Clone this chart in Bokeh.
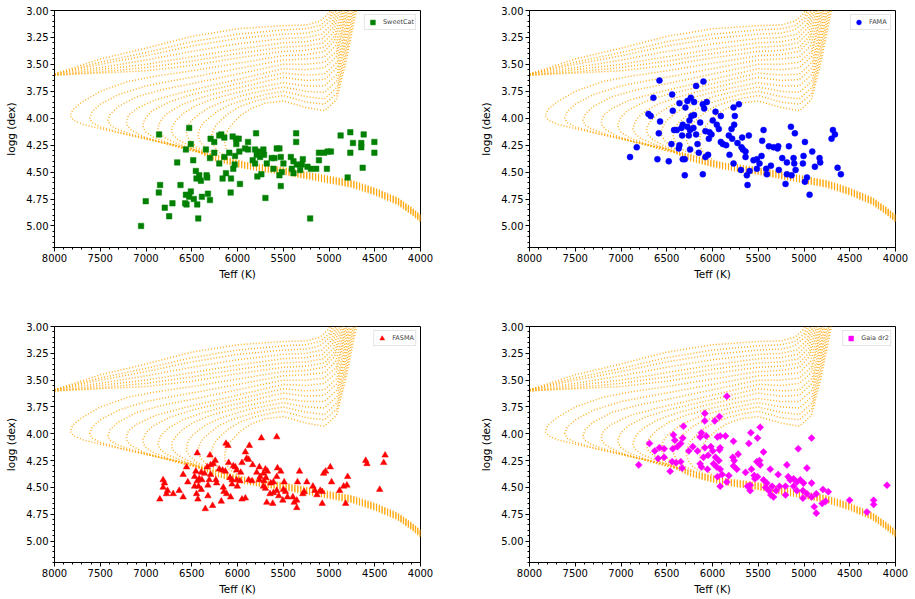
import math
from bokeh.plotting import figure
from bokeh.layouts import gridplot
from bokeh.models import Range1d, SingleIntervalTicker, NumeralTickFormatter, ColumnDataSource
from bokeh.embed import file_html
from bokeh.resources import INLINE

# ---- catalogue values (Teff in K, logg in dex) ----
sweetcat_teff = [6528, 6857, 6510, 6564, 6659, 6484, 6294, 6254, 6199, 6177, 6144, 6053, 6016, 5987, 6013,
                 5885, 5797, 6345, 6254, 6301, 6199, 6144, 6090, 6027, 5980, 5918, 5885, 5808, 5761, 5717,
                 5790, 5834, 5808, 5753, 5710, 5680, 5626, 5571, 5542, 5607, 5596, 5527, 5498, 5516, 5542,
                 5417, 5388, 5406, 5352, 5286, 5297, 5315, 5359, 5359, 5388, 5235, 5198, 5140, 5110, 5110,
                 5052, 5015, 4979, 5023, 4873, 4767, 4767, 4738, 4647, 4647, 4621, 4632, 4504, 4504, 4796,
                 6031, 6046, 6071, 6126, 6163, 5973, 5783, 5739, 5695, 5527, 5206, 6075, 6455, 6418, 6400,
                 6338, 6331, 6448, 6846, 6860, 6623, 6510, 6564, 6528, 6477, 6440, 6389, 6323, 6301, 6572,
                 6557, 7003, 6711, 6795, 6747, 6429, 7054]
sweetcat_logg = [4.09, 4.15, 4.24, 4.29, 4.41, 4.39, 4.19, 4.22, 4.16, 4.15, 4.18, 4.17, 4.19, 4.19, 4.24,
                 4.22, 4.14, 4.29, 4.32, 4.37, 4.42, 4.36, 4.32, 4.35, 4.31, 4.28, 4.29, 4.29, 4.31, 4.29,
                 4.34, 4.39, 4.42, 4.36, 4.34, 4.42, 4.37, 4.28, 4.28, 4.47, 4.37, 4.36, 4.42, 4.50, 4.53,
                 4.36, 4.40, 4.47, 4.43, 4.38, 4.43, 4.48, 4.14, 4.22, 4.51, 4.45, 4.47, 4.47, 4.32, 4.39,
                 4.32, 4.31, 4.31, 4.47, 4.16, 4.13, 4.32, 4.23, 4.23, 4.27, 4.15, 4.46, 4.22, 4.32, 4.55,
                 4.43, 4.47, 4.56, 4.51, 4.56, 4.61, 4.54, 4.52, 4.74, 4.63, 4.93, 4.69, 4.49, 4.53, 4.58,
                 4.53, 4.55, 4.56, 4.62, 4.69, 4.62, 4.68, 4.71, 4.73, 4.75, 4.80, 4.73, 4.70, 4.76, 4.79,
                 4.80, 4.77, 4.79, 4.83, 4.91, 4.93, 5.00]

fama_teff = [6580, 6099, 6179, 6646, 6441, 6237, 6274, 6361, 6201, 6106, 6062, 6296, 6091, 6434, 5770,
             5712, 6700, 6675, 6573, 6201, 6230, 6252, 5967, 5909, 6135, 5997, 5953, 5931, 5756, 5763,
             6325, 6274, 6339, 6390, 6420, 6208, 6245, 6077, 6033, 6011, 6040, 6179, 6259, 6332, 6587,
             6449, 6361, 6369, 6164, 6245, 6150, 6048, 6077, 5909, 5887, 5851, 5822, 5785, 5727, 5676,
             5603, 5792, 5683, 5668, 5639, 5639, 5814, 5770, 5690, 5625, 5595, 5617, 5552, 5515, 5464,
             5486, 5442, 5457, 5384, 5333, 5282, 5289, 5165, 5143, 5100, 4990, 5005, 5012, 4910, 4830,
             4823, 5238, 5187, 5114, 5107, 5092, 4881, 5362, 5413, 5275, 5187, 5136, 5202, 4990, 4968,
             4939, 5406, 5515, 4684, 4662, 4699, 4633, 4597, 6828, 6901, 6602, 6478, 6325, 6303, 6303,
             6106]
fama_logg = [3.65, 3.66, 3.70, 3.81, 3.78, 3.81, 3.84, 3.86, 3.85, 3.87, 3.85, 3.90, 3.91, 3.93, 3.90,
             3.87, 3.96, 3.98, 4.03, 3.97, 3.98, 4.02, 3.94, 3.98, 4.04, 4.02, 4.06, 4.10, 3.98, 4.06,
             4.06, 4.08, 4.09, 4.11, 4.11, 4.09, 4.11, 4.12, 4.13, 4.15, 4.19, 4.15, 4.16, 4.16, 4.14,
             4.24, 4.25, 4.28, 4.24, 4.29, 4.32, 4.34, 4.36, 4.22, 4.24, 4.25, 4.16, 4.19, 4.23, 4.18,
             4.16, 4.10, 4.27, 4.29, 4.31, 4.36, 4.34, 4.42, 4.48, 4.53, 4.49, 4.62, 4.39, 4.38, 4.35,
             4.42, 4.11, 4.21, 4.26, 4.27, 4.26, 4.28, 4.26, 4.08, 4.14, 4.22, 4.35, 4.42, 4.31, 4.37,
             4.41, 4.37, 4.41, 4.37, 4.42, 4.48, 4.45, 4.44, 4.47, 4.48, 4.52, 4.53, 4.61, 4.59, 4.55,
             4.71, 4.52, 4.47, 4.11, 4.15, 4.19, 4.46, 4.52, 4.27, 4.36, 4.38, 4.40, 4.38, 4.38, 4.53,
             4.52]

fasma_teff = [5739, 5571, 6126, 6104, 5870, 6440, 6301, 5914, 5900, 5878, 6243, 6097, 5951, 6294, 6331,
              6265, 6199, 6163, 6133, 6046, 6024, 6009, 5965, 5834, 5761, 5695, 5673, 5717, 5563, 5527,
              5790, 5753, 5688, 5571, 6557, 6455, 6396, 6360, 6294, 6594, 6813, 6798, 6543, 6469, 6418,
              6440, 6389, 6309, 6236, 6228, 6082, 6060, 6009, 5973, 5878, 5841, 5761, 5710, 5637, 5490,
              5322, 5344, 5242, 6813, 6765, 6637, 6703, 6594, 6469, 6426, 6396, 6323, 6448, 6323, 6433,
              6849, 6776, 6155, 6148, 6119, 6075, 6060, 6002, 5695, 5644, 5607, 5571, 5498, 5476, 5454,
              5549, 5505, 5395, 5352, 5352, 5381, 5271, 5286, 5176, 5154, 5096, 5132, 5074, 5059, 5037,
              4986, 4972, 4884, 4840, 4796, 4804, 5074, 4818, 5680, 5615, 5914, 5951, 6177, 6272, 6352,
              4599, 4585, 4387, 4402, 4446, 5717, 5607]
fasma_logg = [4.04, 4.03, 4.09, 4.11, 4.11, 4.18, 4.20, 4.17, 4.23, 4.24, 4.25, 4.27, 4.27, 4.29, 4.31,
              4.28, 4.33, 4.34, 4.35, 4.30, 4.31, 4.34, 4.36, 4.29, 4.31, 4.33, 4.35, 4.37, 4.32, 4.35,
              4.36, 4.40, 4.41, 4.40, 4.31, 4.35, 4.36, 4.37, 4.38, 4.38, 4.43, 4.46, 4.45, 4.40, 4.42,
              4.44, 4.43, 4.43, 4.43, 4.46, 4.41, 4.43, 4.43, 4.44, 4.43, 4.44, 4.43, 4.44, 4.46, 4.45,
              4.35, 4.45, 4.45, 4.50, 4.53, 4.53, 4.56, 4.59, 4.49, 4.49, 4.52, 4.48, 4.56, 4.58, 4.61,
              4.61, 4.56, 4.50, 4.54, 4.56, 4.59, 4.47, 4.49, 4.51, 4.56, 4.55, 4.53, 4.52, 4.54, 4.59,
              4.58, 4.62, 4.59, 4.62, 4.69, 4.64, 4.54, 4.56, 4.49, 4.53, 4.53, 4.57, 4.54, 4.37, 4.35,
              4.31, 4.45, 4.53, 4.49, 4.40, 4.48, 4.65, 4.65, 4.64, 4.65, 4.60, 4.61, 4.63, 4.67, 4.70,
              4.25, 4.28, 4.20, 4.27, 4.52, 4.49, 4.45]

gaia_teff = [5843, 6084, 6084, 5924, 5975, 6317, 5479, 5581, 5508, 6427, 6412, 6325, 6347, 6121, 6135,
             6069, 5946, 5916, 5858, 5771, 5603, 6689, 6631, 6580, 6529, 6595, 6529, 6434, 6383, 6259,
             6215, 6164, 6084, 6018, 5997, 5916, 5924, 6048, 6099, 5967, 5931, 5778, 5763, 5720, 6441,
             6398, 6347, 6332, 6463, 6135, 6121, 6055, 5989, 5953, 5916, 5894, 5945, 5822, 5771, 5734,
             5639, 5574, 5544, 5515, 5486, 5479, 5537, 5508, 5442, 5369, 5282, 5187, 5063, 4968, 4917,
             5173, 5151, 5114, 5078, 5041, 5005, 4917, 5114, 5078, 5012, 4968, 4917, 4866, 4801, 4764,
             4793, 4735, 5202, 5202, 5267, 5348, 5442, 5420, 5384, 5362, 5333, 5617, 5588, 5588, 5916,
             5843, 4888, 4866, 4502, 4239, 4239, 4312, 4093, 6806, 5012, 5304, 5406]
gaia_logg = [3.65, 3.81, 3.88, 3.84, 3.88, 3.93, 3.94, 3.99, 4.04, 4.01, 4.06, 4.04, 4.09, 3.99, 4.03,
             4.02, 4.03, 4.02, 4.02, 4.07, 4.09, 4.09, 4.16, 4.13, 4.14, 4.23, 4.22, 4.14, 4.12, 4.16,
             4.12, 4.16, 4.13, 4.12, 4.16, 4.13, 4.15, 4.20, 4.22, 4.22, 4.25, 4.22, 4.25, 4.19, 4.26,
             4.27, 4.26, 4.32, 4.35, 4.28, 4.31, 4.33, 4.28, 4.31, 4.33, 4.38, 4.40, 4.39, 4.30, 4.33,
             4.36, 4.33, 4.39, 4.26, 4.25, 4.29, 4.42, 4.40, 4.17, 4.33, 4.38, 4.29, 4.14, 4.32, 4.04,
             4.40, 4.43, 4.42, 4.45, 4.43, 4.46, 4.46, 4.49, 4.53, 4.53, 4.56, 4.59, 4.56, 4.65, 4.63,
             4.52, 4.54, 4.49, 4.57, 4.49, 4.49, 4.43, 4.50, 4.53, 4.57, 4.59, 4.49, 4.48, 4.53, 4.49,
             4.45, 4.68, 4.74, 4.62, 4.62, 4.66, 4.73, 4.48, 4.29, 4.60, 4.53, 4.46]

# ---- isochrone grid (Teff, logg knots), same in every panel ----
# shared lower main sequence band
band_teff = [4000, 4100, 4250, 4500, 4750, 5000, 5250, 5500, 5750, 6000, 6250, 6500]
band_logg = [4.93, 4.86, 4.77, 4.68, 4.61, 4.57, 4.53, 4.49, 4.46, 4.42, 4.36, 4.29]

# young isochrones: turn-off beyond 8000 K, only the post main sequence is in view
young_isochrones = [
    [(8000, 3.59), (7500, 3.45), (7000, 3.35), (6500, 3.24), (6000, 3.17), (5500, 3.14), (5250, 3.135), (5100, 3.10), (5020, 3.04), (4985, 3.00)],
    [(8000, 3.59), (7500, 3.48), (7000, 3.39), (6500, 3.29), (6000, 3.22), (5500, 3.18), (5250, 3.17), (5100, 3.14), (5000, 3.07), (4965, 3.00)],
    [(8000, 3.59), (7500, 3.50), (7000, 3.42), (6500, 3.33), (6000, 3.26), (5500, 3.22), (5250, 3.21), (5100, 3.18), (4990, 3.10), (4945, 3.00)],
    [(8000, 3.59), (7500, 3.53), (7000, 3.46), (6500, 3.38), (6000, 3.31), (5500, 3.26), (5250, 3.25), (5080, 3.22), (4970, 3.13), (4925, 3.00)],
    [(8000, 3.60), (7500, 3.55), (7000, 3.50), (6500, 3.43), (6000, 3.36), (5500, 3.30), (5250, 3.29), (5070, 3.26), (4960, 3.16), (4905, 3.00)],
    [(8000, 3.60), (7500, 3.57), (7000, 3.53), (6500, 3.47), (6000, 3.40), (5500, 3.34), (5250, 3.33), (5060, 3.30), (4950, 3.20), (4885, 3.00)],
    [(8000, 3.60), (7500, 3.58), (7000, 3.56), (6500, 3.51), (6000, 3.44), (5500, 3.38), (5250, 3.37), (5050, 3.34), (4940, 3.24), (4900, 3.12), (4865, 3.00)],
]

# older isochrones: hook of the turn-off visible, starting where they leave the band
old_isochrones = [
    [(6500, 4.28), (6800, 4.23), (7070, 4.18), (7430, 4.11), (7680, 4.06), (7790, 4.02), (7828, 3.98), (7800, 3.92), (7700, 3.85), (7500, 3.75), (7200, 3.66), (6900, 3.61), (6500, 3.56), (6000, 3.49), (5500, 3.42), (5250, 3.41), (5050, 3.38), (4940, 3.28), (4880, 3.12), (4850, 3.00)],
    [(6450, 4.30), (6700, 4.25), (7000, 4.19), (7300, 4.13), (7500, 4.08), (7590, 4.04), (7616, 4.00), (7590, 3.94), (7500, 3.87), (7300, 3.78), (7000, 3.70), (6700, 3.65), (6500, 3.62), (6000, 3.54), (5500, 3.46), (5250, 3.45), (5050, 3.43), (4930, 3.33), (4870, 3.15), (4835, 3.00)],
    [(6400, 4.31), (6650, 4.26), (6900, 4.21), (7150, 4.15), (7320, 4.10), (7395, 4.06), (7416, 4.02), (7390, 3.96), (7300, 3.89), (7100, 3.80), (6800, 3.73), (6500, 3.68), (6000, 3.59), (5500, 3.50), (5250, 3.50), (5050, 3.48), (4920, 3.38), (4860, 3.18), (4820, 3.00)],
    [(6350, 4.33), (6600, 4.28), (6850, 4.22), (7030, 4.17), (7160, 4.11), (7205, 4.07), (7215, 4.03), (7190, 3.97), (7100, 3.91), (6900, 3.83), (6600, 3.76), (6300, 3.70), (6000, 3.64), (5500, 3.54), (5250, 3.55), (5050, 3.53), (4920, 3.43), (4860, 3.22), (4805, 3.00)],
    [(6300, 4.34), (6550, 4.29), (6750, 4.23), (6910, 4.18), (7000, 4.13), (7030, 4.09), (7032, 4.05), (7000, 3.99), (6930, 3.93), (6750, 3.85), (6500, 3.78), (6250, 3.73), (6000, 3.68), (5500, 3.58), (5250, 3.60), (5050, 3.59), (4910, 3.48), (4850, 3.26), (4790, 3.00)],
    [(6250, 4.35), (6450, 4.30), (6640, 4.24), (6780, 4.19), (6850, 4.14), (6868, 4.10), (6860, 4.06), (6830, 4.01), (6760, 3.95), (6600, 3.87), (6400, 3.81), (6150, 3.75), (5900, 3.70), (5500, 3.62), (5250, 3.65), (5050, 3.64), (4910, 3.53), (4845, 3.30), (4775, 3.00)],
    [(6200, 4.36), (6380, 4.31), (6540, 4.25), (6650, 4.20), (6710, 4.15), (6721, 4.11), (6710, 4.07), (6670, 4.02), (6600, 3.96), (6470, 3.89), (6300, 3.83), (6050, 3.77), (5800, 3.72), (5500, 3.67), (5250, 3.70), (5050, 3.70), (4910, 3.59), (4840, 3.34), (4760, 3.00)],
    [(6150, 4.37), (6300, 4.33), (6440, 4.27), (6520, 4.21), (6555, 4.16), (6557, 4.12), (6540, 4.07), (6500, 4.02), (6430, 3.97), (6330, 3.91), (6170, 3.85), (5950, 3.79), (5750, 3.75), (5500, 3.71), (5250, 3.75), (5050, 3.76), (4910, 3.65), (4835, 3.38), (4745, 3.00)],
    [(6050, 4.39), (6200, 4.35), (6330, 4.29), (6400, 4.23), (6428, 4.18), (6429, 4.14), (6410, 4.09), (6370, 4.04), (6300, 3.99), (6210, 3.93), (6070, 3.87), (5880, 3.82), (5700, 3.78), (5500, 3.75), (5250, 3.80), (5050, 3.82), (4910, 3.71), (4830, 3.42), (4730, 3.00)],
    [(5950, 4.41), (6100, 4.37), (6210, 4.31), (6265, 4.25), (6285, 4.20), (6283, 4.16), (6265, 4.11), (6230, 4.06), (6170, 4.01), (6090, 3.95), (5970, 3.89), (5800, 3.84), (5650, 3.81), (5500, 3.79), (5250, 3.85), (5050, 3.87), (4915, 3.77), (4825, 3.46), (4715, 3.00)],
    [(5850, 4.43), (5990, 4.39), (6090, 4.33), (6130, 4.27), (6140, 4.22), (6137, 4.18), (6120, 4.13), (6085, 4.08), (6030, 4.03), (5960, 3.97), (5850, 3.91), (5700, 3.86), (5500, 3.84), (5250, 3.90), (5050, 3.93), (4920, 3.83), (4820, 3.50), (4700, 3.00)],
]
ms_shift = [0.03, 0.024, 0.018, 0.012, 0.006, 0.0, -0.006, -0.012, -0.018, -0.024, -0.03]

iso_xs, iso_ys = [], []
for pts in young_isochrones:
    iso_xs.append([t for t, g in pts])
    iso_ys.append([g for t, g in pts])
for shift, pts in zip(ms_shift, old_isochrones):
    ms = [(t, g + shift) for t, g in zip(band_teff, band_logg) if t < pts[0][0]]
    full = ms + pts
    iso_xs.append([t for t, g in full])
    iso_ys.append([g for t, g in full])

FONT = "DejaVu Sans"


def make_panel(teff, logg, label, marker, color, size, angle, left_col, top_row):
    width = 475 if left_col else 438
    height = 287 if top_row else 310
    p = figure(width=width, height=height,
               x_range=Range1d(8000, 4000), y_range=Range1d(5.2, 3.0),
               toolbar_location=None, output_backend="svg",
               min_border_left=54, min_border_right=55 if left_col else 18,
               min_border_top=10 if top_row else 39, min_border_bottom=40 if top_row else 35)
    p.background_fill_color = "white"
    p.border_fill_color = "white"
    p.outline_line_color = "black"
    p.outline_line_width = 1
    p.xgrid.visible = False
    p.ygrid.visible = False

    p.xaxis.ticker = SingleIntervalTicker(interval=500, num_minor_ticks=5)
    p.yaxis.ticker = SingleIntervalTicker(interval=0.25, num_minor_ticks=5)
    p.yaxis.formatter = NumeralTickFormatter(format="0.00")
    p.xaxis.axis_label = "Teff (K)"
    p.yaxis.axis_label = "logg (dex)"
    for ax in (p.xaxis, p.yaxis):
        ax.axis_line_color = "black"
        ax.major_tick_in = 0
        ax.major_tick_out = 4
        ax.minor_tick_in = 0
        ax.minor_tick_out = 2
        ax.major_tick_line_color = "black"
        ax.minor_tick_line_color = "black"
        ax.major_label_text_font = FONT
        ax.major_label_text_font_size = "10px"
        ax.major_label_text_color = "black"
        ax.axis_label_text_font = FONT
        ax.axis_label_text_font_size = "10.5px"
        ax.axis_label_text_font_style = "normal"
        ax.axis_label_text_color = "black"
    p.xaxis.major_label_standoff = 2
    p.xaxis.axis_label_standoff = 3
    p.yaxis.major_label_standoff = 2
    p.yaxis.axis_label_standoff = 6

    iso = ColumnDataSource(dict(xs=iso_xs, ys=iso_ys))
    p.multi_line(xs="xs", ys="ys", source=iso, line_color="orange",
                 line_width=1.5, line_alpha=0.85, line_dash="1 2")

    p.scatter(teff, logg, marker=marker, size=size, angle=angle,
              fill_color=color, line_color=color, line_width=0.5,
              legend_label=label)

    lg = p.legend[0]
    lg.location = "top_right"
    lg.margin = 4
    lg.padding = 1
    lg.spacing = 0
    lg.glyph_width = 13
    lg.glyph_height = 12
    lg.label_height = 10
    lg.label_standoff = 4
    lg.label_text_font = FONT
    lg.label_text_font_size = "6.5px"
    lg.border_line_color = "#cccccc"
    lg.border_line_width = 1
    lg.background_fill_alpha = 0.8
    return p


p1 = make_panel(sweetcat_teff, sweetcat_logg, "SweetCat", "square", "#008000", 5.5, 0.0, True, True)
p2 = make_panel(fama_teff, fama_logg, "FAMA", "circle", "#0000ff", 6, 0.0, False, True)
p3 = make_panel(fasma_teff, fasma_logg, "FASMA", "triangle", "#ff0000", 6.5, 0.0, True, False)
p4 = make_panel(gaia_teff, gaia_logg, "Gaia dr2", "square", "#ff00ff", 5, math.pi / 4, False, False)

grid = gridplot([[p1, p2], [p3, p4]], toolbar_location=None)

open("out.html", "w").write(file_html(grid, INLINE))
